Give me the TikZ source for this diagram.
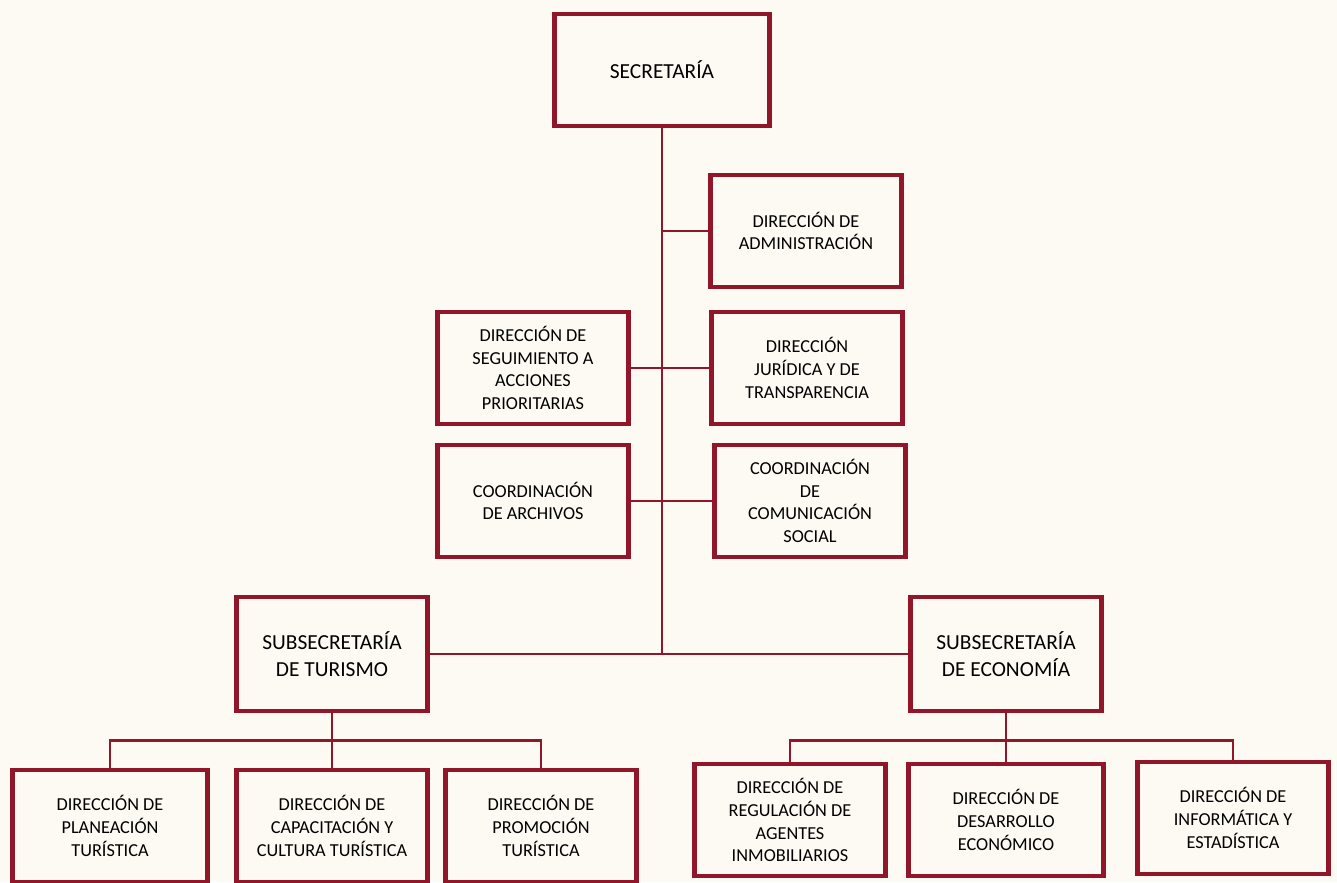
\documentclass[tikz,border=0pt]{standalone}
\usepackage{fontspec}
\setmainfont{Carlito}
\definecolor{orgred}{RGB}{145,22,42}
\definecolor{paper}{RGB}{252,250,243}
\tikzset{
  cargo/.style={draw=orgred, line width=2.6pt, align=center, inner sep=2pt,
    minimum width=3.82cm, minimum height=2.24cm, font=\fontsize{10.4}{13}\selectfont},
  mando/.style={cargo, font=\fontsize{12.2}{15.4}\selectfont},
  liga/.style={draw=orgred, line width=1.4pt},
}

\begin{document}
\begin{tikzpicture}[x=0.02cm,y=-0.02cm]
    \useasboundingbox (0,0) rectangle (1337,882);
    \fill[paper] (0,0) rectangle (1337,882);
    % cabeza
    \node[mando,minimum width=4.3cm] (sec) at (662,70) {SECRETARÍA};
    % unidades de apoyo
    \node[cargo] (adm) at (806,231) {DIRECCIÓN DE\\ADMINISTRACIÓN};
    \node[cargo] (seg) at (533,368) {DIRECCIÓN DE\\SEGUIMIENTO A\\ACCIONES\\PRIORITARIAS};
    \node[cargo] (jur) at (807,368) {DIRECCIÓN\\JURÍDICA Y DE\\TRANSPARENCIA};
    \node[cargo] (arc) at (533,501) {COORDINACIÓN\\DE ARCHIVOS};
    \node[cargo] (com) at (810,501) {COORDINACIÓN\\DE\\COMUNICACIÓN\\SOCIAL};
    % subsecretarias
    \node[mando,minimum height=2.28cm] (tur) at (332,654) {SUBSECRETARÍA\\DE TURISMO};
    \node[mando,minimum height=2.28cm] (eco) at (1006,654) {SUBSECRETARÍA\\DE ECONOMÍA};
    % direcciones de turismo
    \node[cargo,minimum width=3.9cm] (pla) at (110,826) {DIRECCIÓN DE\\PLANEACIÓN\\TURÍSTICA};
    \node[cargo] (cap) at (332,826) {DIRECCIÓN DE\\CAPACITACIÓN Y\\CULTURA TURÍSTICA};
    \node[cargo] (pro) at (541,826) {DIRECCIÓN DE\\PROMOCIÓN\\TURÍSTICA};
    % direcciones de economia
    \node[cargo] (reg) at (790,820) {DIRECCIÓN DE\\REGULACIÓN DE\\AGENTES\\INMOBILIARIOS};
    \node[cargo,minimum width=3.9cm] (des) at (1006,820) {DIRECCIÓN DE\\DESARROLLO\\ECONÓMICO};
    \node[cargo] (inf) at (1233,818) {DIRECCIÓN DE\\INFORMÁTICA Y\\ESTADÍSTICA};

    \draw[liga] (sec.south) -- (sec.south |- tur.east);
    \draw[liga] (tur.east) -- (eco.west);
    \draw[liga] (adm.west) -- (adm.west -| sec.south);
    \draw[liga] (seg.east) -- (jur.west);
    \draw[liga] (arc.east) -- (com.west);
    \draw[liga] (tur.south) -- ++(0,27) coordinate (tbus);
    \draw[liga] (pla.north) |- (tbus) -| (pro.north);
    \draw[liga] (tbus) -- (cap.north);
    \draw[liga] (eco.south) -- ++(0,27) coordinate (ebus);
    \draw[liga] (reg.north) |- (ebus) -| (inf.north);
    \draw[liga] (ebus) -- (des.north);
\end{tikzpicture}
\end{document}
